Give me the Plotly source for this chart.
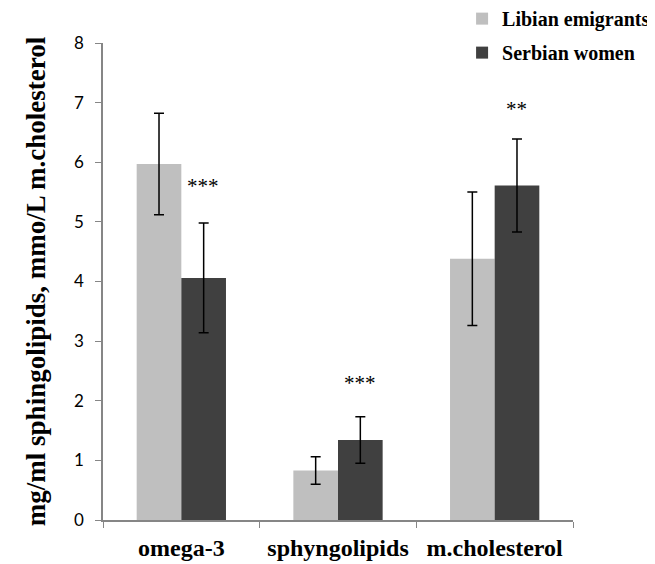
import plotly.graph_objects as go

categories = ["omega-3", "sphyngolipids", "m.cholesterol"]
libian = [5.97, 0.83, 4.38]
libian_err = [0.85, 0.23, 1.12]
serbian = [4.06, 1.34, 5.61]
serbian_err = [0.92, 0.39, 0.78]
stars = ["***", "***", "**"]
star_y = [5.6, 2.29, 6.89]
y_ticks = [0, 1, 2, 3, 4, 5, 6, 7, 8]

serif = "Liberation Serif, Times New Roman, serif"
sans = "Lato, Carlito, Calibri, sans-serif"

fig = go.Figure()
fig.add_trace(go.Bar(
    x=categories, y=libian, name="Libian emigrants",
    marker=dict(color="#BFBFBF", line=dict(width=0)),
    error_y=dict(type="data", array=libian_err, color="black", thickness=1.5, width=5),
    legendgroup="a",
))
fig.add_trace(go.Bar(
    x=categories, y=serbian, name="Serbian women",
    marker=dict(color="#404040", line=dict(width=0)),
    error_y=dict(type="data", array=serbian_err, color="black", thickness=1.5, width=5),
    legendgroup="b",
))

for c, s, yv in zip(categories, stars, star_y):
    fig.add_annotation(x=c, y=yv, text=s, showarrow=False, xshift=22,
                       font=dict(family=serif, size=21, color="black"),
                       yanchor="middle")

# page body adds an 8px offset, so the figure is 8px smaller and shifted
fig.update_layout(
    width=647, height=556,
    margin=dict(l=95, r=82, t=35, b=44, autoexpand=False),
    paper_bgcolor="white", plot_bgcolor="white",
    barmode="group", bargap=0.43, bargroupgap=0,
    showlegend=True,
    legend=dict(x=0.764, y=1.092, xanchor="left", yanchor="top",
                font=dict(family=serif, size=20, color="black", weight="bold"),
                tracegroupgap=5, itemwidth=30, traceorder="grouped",
                bgcolor="rgba(0,0,0,0)"),
    font=dict(family=sans, color="black"),
)
fig.update_xaxes(
    showline=True, linecolor="#868686", linewidth=1.5,
    ticks="outside", tickson="boundaries", ticklen=6, tickcolor="#868686",
    tickfont=dict(family=serif, size=24, color="black", weight="bold"),
    ticklabelstandoff=5, automargin=False,
    showgrid=False, zeroline=False,
)
fig.update_yaxes(
    range=[0, 8], tickvals=y_ticks, showline=True, linecolor="#868686", linewidth=1.5,
    ticks="outside", ticklen=6, tickcolor="#868686",
    tickfont=dict(family=sans, size=17, color="black"),
    ticklabelstandoff=8, automargin=False,
    showgrid=False, zeroline=False,
    title=dict(text="mg/ml sphingolipids, mmo/L m.cholesterol",
               font=dict(family=serif, size=27, color="black", weight="bold"), standoff=21),
)

fig.write_html("out.html")
